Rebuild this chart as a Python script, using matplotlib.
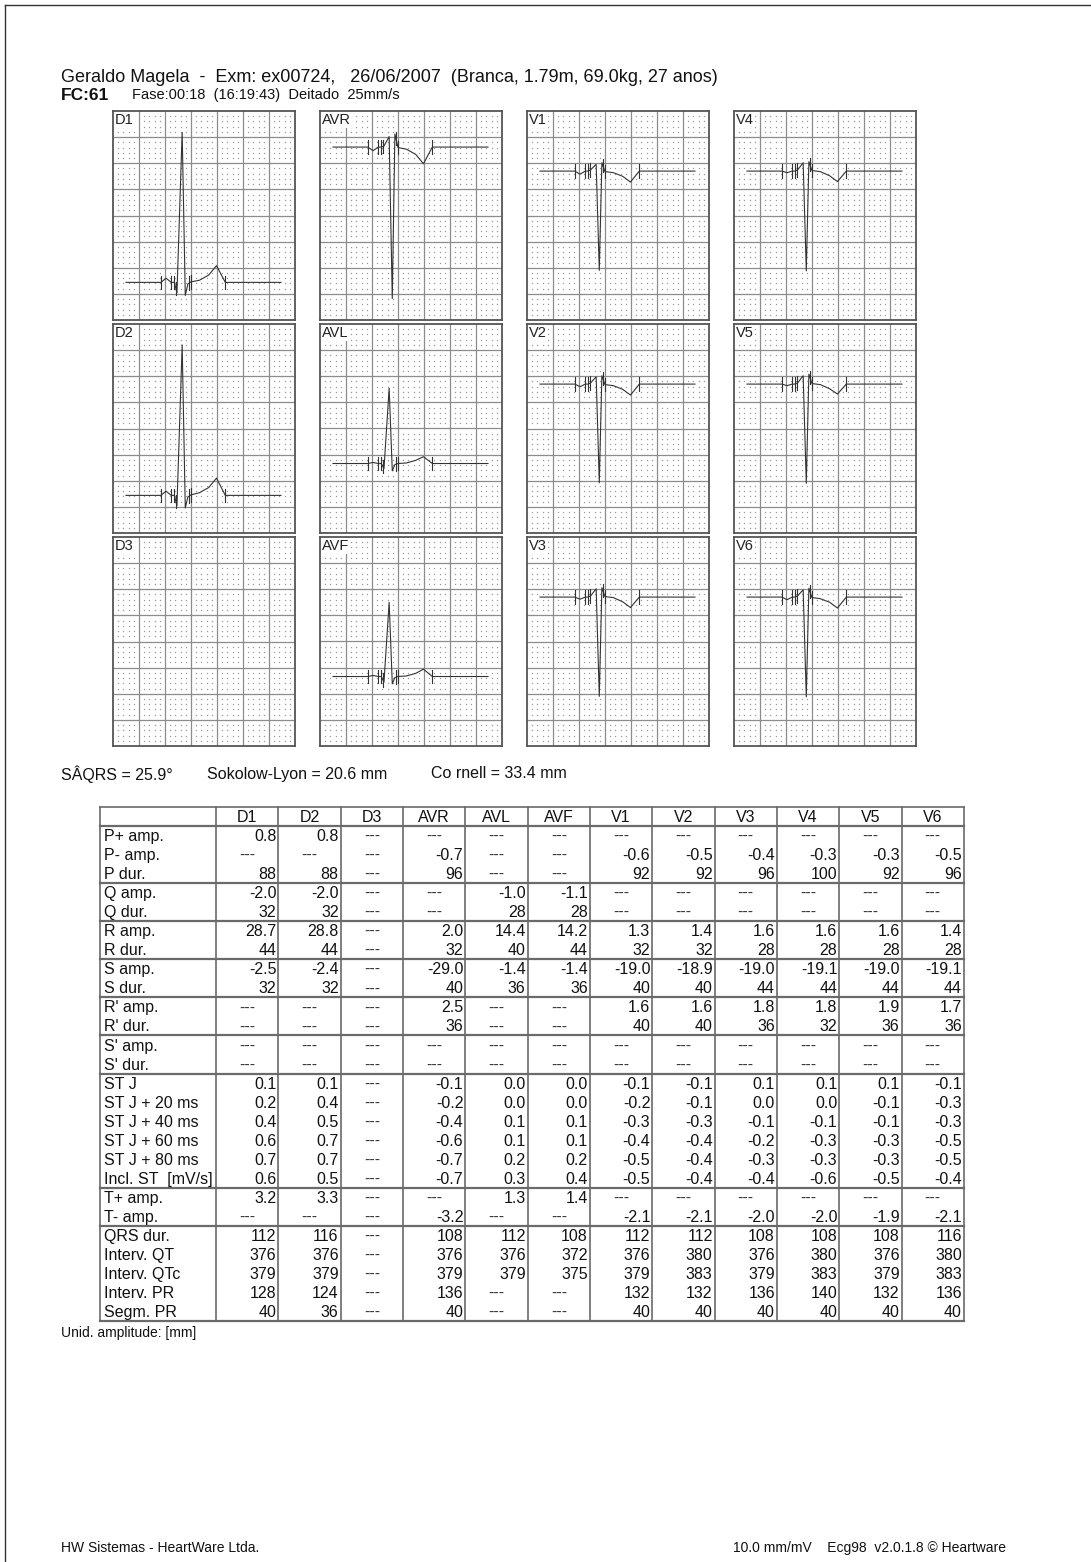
import matplotlib
matplotlib.use("Agg")
import matplotlib.pyplot as plt
import numpy as np

W, H = 1091, 1562
plt.rcParams['font.family'] = ['Liberation Sans', 'DejaVu Sans']

title = "Geraldo Magela  -  Exm: ex00724,   26/06/2007  (Branca, 1.79m, 69.0kg, 27 anos)"
fc_text = "FC:61"
phase_text = "Fase:00:18  (16:19:43)  Deitado  25mm/s"
indices_text = ["SÂQRS = 25.9°", "Sokolow-Lyon = 20.6 mm", "Co rnell = 33.4 mm"]
footer_left = "HW Sistemas - HeartWare Ltda."
footer_right = "10.0 mm/mV    Ecg98  v2.0.1.8 © Heartware"
unit_note = "Unid. amplitude: [mm]"

leads = ["D1", "D2", "D3", "AVR", "AVL", "AVF", "V1", "V2", "V3", "V4", "V5", "V6"]

# median beat, time in mm (25 mm/s), amplitude in mm (10 mm/mV)
beat_t = [2.5, 9.2, 10.2, 11.2, 11.8, 12.3, 13.3, 13.9, 14.4, 15.0, 16.6, 18.4, 19.9, 21.6, 32.3]
wave_D1 = [0, 0, 0.8, 0, 0, -2.0, 28.7, -2.5, -0.3, 0.1, 0.4, 1.4, 3.2, 0, 0]
wave_D2 = [0, 0, 0.8, 0, 0, -2.0, 28.8, -2.4, -0.3, 0.1, 0.5, 1.5, 3.3, 0, 0]
wave_AVR = [0, 0, -0.7, 0, 0, 0.2, 2.0, -29.0, 2.5, -0.1, -0.4, -1.4, -3.2, 0, 0]
wave_AVL = [0, 0, 0.2, 0, 0, -1.0, 14.4, -1.4, -0.2, 0.0, 0.1, 0.6, 1.3, 0, 0]
wave_AVF = [0, 0, 0.2, 0, 0, -1.1, 14.2, -1.4, -0.2, 0.0, 0.1, 0.6, 1.4, 0, 0]
wave_V1 = [0, 0, -0.6, 0, 0, 0.3, 1.3, -19.0, 1.6, -0.1, -0.3, -1.0, -2.1, 0, 0]
wave_V2 = [0, 0, -0.5, 0, 0, 0.3, 1.4, -18.9, 1.6, -0.1, -0.3, -1.0, -2.1, 0, 0]
wave_V3 = [0, 0, -0.4, 0, 0, 0.3, 1.6, -19.0, 1.8, 0.1, -0.1, -0.9, -2.0, 0, 0]
wave_V4 = [0, 0, -0.3, 0, 0, 0.3, 1.6, -19.1, 1.8, 0.1, -0.1, -0.9, -2.0, 0, 0]
wave_V5 = [0, 0, -0.3, 0, 0, 0.3, 1.6, -19.0, 1.9, 0.1, -0.1, -0.9, -1.9, 0, 0]
wave_V6 = [0, 0, -0.5, 0, 0, 0.3, 1.4, -19.1, 1.7, -0.1, -0.3, -1.0, -2.1, 0, 0]
marker_t = [9.2, 11.2, 11.7, 12.1, 14.6, 15.0, 21.6]

row_labels = ["P+ amp.", "P- amp.", "P dur.", "Q amp.", "Q dur.", "R amp.", "R dur.",
              "S amp.", "S dur.", "R' amp.", "R' dur.", "S' amp.", "S' dur.",
              "ST J", "ST J + 20 ms", "ST J + 40 ms", "ST J + 60 ms", "ST J + 80 ms",
              "Incl. ST  [mV/s]", "T+ amp.", "T- amp.", "QRS dur.", "Interv. QT",
              "Interv. QTc", "Interv. PR", "Segm. PR"]
D = "---"
cell_text = [
    ["0.8", "0.8", D, D, D, D, D, D, D, D, D, D],
    [D, D, D, "-0.7", D, D, "-0.6", "-0.5", "-0.4", "-0.3", "-0.3", "-0.5"],
    ["88", "88", D, "96", D, D, "92", "92", "96", "100", "92", "96"],
    ["-2.0", "-2.0", D, D, "-1.0", "-1.1", D, D, D, D, D, D],
    ["32", "32", D, D, "28", "28", D, D, D, D, D, D],
    ["28.7", "28.8", D, "2.0", "14.4", "14.2", "1.3", "1.4", "1.6", "1.6", "1.6", "1.4"],
    ["44", "44", D, "32", "40", "44", "32", "32", "28", "28", "28", "28"],
    ["-2.5", "-2.4", D, "-29.0", "-1.4", "-1.4", "-19.0", "-18.9", "-19.0", "-19.1", "-19.0", "-19.1"],
    ["32", "32", D, "40", "36", "36", "40", "40", "44", "44", "44", "44"],
    [D, D, D, "2.5", D, D, "1.6", "1.6", "1.8", "1.8", "1.9", "1.7"],
    [D, D, D, "36", D, D, "40", "40", "36", "32", "36", "36"],
    [D] * 12,
    [D] * 12,
    ["0.1", "0.1", D, "-0.1", "0.0", "0.0", "-0.1", "-0.1", "0.1", "0.1", "0.1", "-0.1"],
    ["0.2", "0.4", D, "-0.2", "0.0", "0.0", "-0.2", "-0.1", "0.0", "0.0", "-0.1", "-0.3"],
    ["0.4", "0.5", D, "-0.4", "0.1", "0.1", "-0.3", "-0.3", "-0.1", "-0.1", "-0.1", "-0.3"],
    ["0.6", "0.7", D, "-0.6", "0.1", "0.1", "-0.4", "-0.4", "-0.2", "-0.3", "-0.3", "-0.5"],
    ["0.7", "0.7", D, "-0.7", "0.2", "0.2", "-0.5", "-0.4", "-0.3", "-0.3", "-0.3", "-0.5"],
    ["0.6", "0.5", D, "-0.7", "0.3", "0.4", "-0.5", "-0.4", "-0.4", "-0.6", "-0.5", "-0.4"],
    ["3.2", "3.3", D, D, "1.3", "1.4", D, D, D, D, D, D],
    [D, D, D, "-3.2", D, D, "-2.1", "-2.1", "-2.0", "-2.0", "-1.9", "-2.1"],
    ["112", "116", D, "108", "112", "108", "112", "112", "108", "108", "108", "116"],
    ["376", "376", D, "376", "376", "372", "376", "380", "376", "380", "376", "380"],
    ["379", "379", D, "379", "379", "375", "379", "383", "379", "383", "379", "383"],
    ["128", "124", D, "136", D, D, "132", "132", "136", "140", "132", "136"],
    ["40", "36", D, "40", D, D, "40", "40", "40", "40", "40", "40"],
]
group_ends = [2, 4, 6, 8, 10, 12, 18, 20]

fig = plt.figure(figsize=(W / 100, H / 100), dpi=100)
page = fig.add_axes([0, 0, 1, 1])
page.set_xlim(0, W)
page.set_ylim(H, 0)
page.axis('off')

# page frame (top and left only)
page.plot([5, 5], [5, H], color='#333', lw=1)
page.plot([5, W], [5, 5], color='#333', lw=1)

page.text(61, 77, title, fontsize=13, va='center', ha='left', color='#111')
page.text(61, 95, fc_text, fontsize=12.5, fontweight='bold', va='center', ha='left', color='#111')
page.text(132, 95, phase_text, fontsize=10.5, va='center', ha='left', color='#111')

# ECG panels
panel_w, panel_h = 182, 209
col_left = [113, 320, 527, 734]
row_top = [111, 324, 537]
layout = [["D1", "AVR", "V1", "V4"], ["D2", "AVL", "V2", "V5"], ["D3", "AVF", "V3", "V6"]]
waves = {"D1": wave_D1, "D2": wave_D2, "D3": None, "AVR": wave_AVR, "AVL": wave_AVL,
         "AVF": wave_AVF, "V1": wave_V1, "V2": wave_V2, "V3": wave_V3, "V4": wave_V4,
         "V5": wave_V5, "V6": wave_V6}
base = {"D1": 7.2, "D2": 7.2, "D3": 20, "AVR": 33.1, "AVL": 13.3, "AVF": 13.3,
        "V1": 28.5, "V2": 28.5, "V3": 28.5, "V4": 28.5, "V5": 28.5, "V6": 28.5}

gx, gy = np.meshgrid(np.arange(1, 35), np.arange(1, 40))
dot = (gx % 5 != 0) & (gy % 5 != 0)

for r, row in enumerate(layout):
    for c, lead in enumerate(row):
        l, t = col_left[c], row_top[r]
        ax = fig.add_axes([l / W, 1 - (t + panel_h) / H, panel_w / W, panel_h / H])
        b = base[lead]
        ax.set_xlim(0, 35)
        ax.set_ylim(-b, 40 - b)
        ax.set_xticks([])
        ax.set_yticks([])
        for s in ax.spines.values():
            s.set_color('#555')
            s.set_linewidth(1.3)
        ax.scatter(gx[dot], gy[dot] - b, s=1.0, c='#999999', lw=0)
        for x in range(5, 35, 5):
            ax.axvline(x, color='#8c8c8c', lw=0.9)
        for y in range(5, 40, 5):
            ax.axhline(y - b, color='#8c8c8c', lw=0.9)
        ax.text(0.4, 39.6 - b, lead, fontsize=10.5, ha='left', va='top', color='#222',
                bbox=dict(fc='white', ec='none', pad=0.6))
        w = waves[lead]
        if w is not None:
            ax.plot(beat_t, w, color='#333', lw=0.8)
            for m in marker_t:
                v = np.interp(m, beat_t, w)
                ax.plot([m, m], [v - 1.3, v + 1.3], color='#333', lw=0.8)

# indices line
page.text(61, 774, indices_text[0], fontsize=11.5, va='center', ha='left', color='#111')
page.text(207, 774, indices_text[1], fontsize=11.5, va='center', ha='left', color='#111')
page.text(431, 774, indices_text[2], fontsize=11.5, va='center', ha='left', color='#111')

# table
tab_left, tab_top, row_h = 100, 807, 19.04
col_x = [216 + 62.33 * i for i in range(13)]
tab_bot = tab_top + row_h * (len(row_labels) + 1)
lc = '#6a6a6a'
for x in [tab_left] + col_x:
    page.plot([x, x], [tab_top, tab_bot], color=lc, lw=1.2)
page.plot([tab_left, col_x[-1]], [tab_top, tab_top], color=lc, lw=1.2)
page.plot([tab_left, col_x[-1]], [tab_bot, tab_bot], color=lc, lw=1.6)
page.plot([tab_left, col_x[-1]], [tab_top + row_h] * 2, color=lc, lw=1.6)
for g in group_ends:
    y = tab_top + row_h * (g + 2)
    page.plot([tab_left, col_x[-1]], [y, y], color=lc, lw=1.6)

fs = 11.5
for j, lead in enumerate(leads):
    page.text((col_x[j] + col_x[j + 1]) / 2, tab_top + row_h / 2 + 1, lead, fontsize=fs,
              ha='center', va='center', color='#111')
for i, lab in enumerate(row_labels):
    yc = tab_top + row_h * (i + 1.5) + 1
    page.text(104, yc, lab, fontsize=fs, ha='left', va='center', color='#111')
    for j, val in enumerate(cell_text[i]):
        if val == D:
            page.text((col_x[j] + col_x[j + 1]) / 2, yc, val, fontsize=fs, ha='center',
                      va='center', color='#333')
        else:
            page.text(col_x[j + 1] - 2, yc, val, fontsize=fs, ha='right', va='center', color='#111')

page.text(61, 1333, unit_note, fontsize=10, va='center', ha='left', color='#111')
page.text(61, 1548, footer_left, fontsize=10, va='center', ha='left', color='#111')
page.text(1006, 1548, footer_right, fontsize=10, va='center', ha='right', color='#111')

fig.savefig("out.png", dpi=100, facecolor='white')
